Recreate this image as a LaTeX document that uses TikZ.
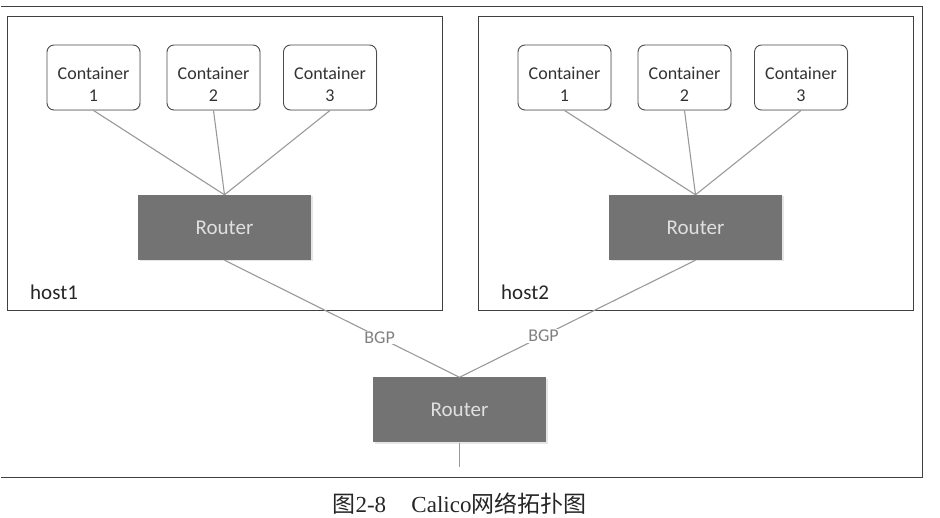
\documentclass[tikz,border=0pt]{standalone}
\usepackage{fontspec}
\setmainfont{Carlito}
\newfontfamily\capfont{Liberation Serif}
\newfontfamily\cjkfont{Noto Sans CJK SC}
\usetikzlibrary{shadows}
\begin{document}
\begin{tikzpicture}[x=1pt,y=-1pt,
  hostbox/.style={draw=black!75,line width=1pt},
  cbox/.style={draw=black!70,line width=0.9pt,rounded corners=7pt,fill=white,
    minimum width=93pt,minimum height=65pt,inner sep=0pt,
    drop shadow={shadow xshift=1pt,shadow yshift=-1pt,opacity=0.15}},
  ctext/.style={align=center,inner sep=0pt,
    font=\fontsize{18}{22}\selectfont,text=black!80},
  rbox/.style={fill=black!55,minimum width=173pt,minimum height=65pt,inner sep=0pt,
    font=\fontsize{21}{24}\selectfont,text=black!12,
    drop shadow={shadow xshift=1.5pt,shadow yshift=-1.5pt,opacity=0.2}},
  link/.style={draw=black!40,line width=1.1pt},
  lbl/.style={font=\fontsize{18}{20}\selectfont,text=black!50,fill=white,inner sep=1pt},
  hostlbl/.style={font=\fontsize{21}{24}\selectfont,text=black!85,anchor=west,inner sep=0pt}]
\useasboundingbox (0,0) rectangle (940,518);
\draw[hostbox] (1,7) -- (922,7) -- (922,477) -- (1,477);
\draw[hostbox] (7,17) rectangle (442,311);
\draw[hostbox] (478,17) rectangle (913,311);
% host1
\node[cbox] (a1) at (93.5,77.5) {};
\node[cbox] (a2) at (213.5,77.5) {};
\node[cbox] (a3) at (330,77.5) {};
\node[rbox] (ra) at (224.5,227.5) {Router};
\node[hostlbl] (ha) at (30,292) {host1};
% host2
\node[cbox] (b1) at (564.5,77.5) {};
\node[cbox] (b2) at (684.5,77.5) {};
\node[cbox] (b3) at (801,77.5) {};
\node[rbox] (rb) at (695.5,227.5) {Router};
\node[hostlbl] (hb) at (501,292) {host2};
\foreach \c/\n in {a1/1,a2/2,a3/3,b1/1,b2/2,b3/3}
  \node[ctext] (\c t) at ([yshift=-7pt]\c.center) {Container\\\n};
% bottom router
\node[rbox] (rc) at (459.5,410) {Router};
\coordinate (end) at (459.5,467);
\foreach \c in {a1,a2,a3} \draw[link] (\c.south) -- (ra.north);
\foreach \c in {b1,b2,b3} \draw[link] (\c.south) -- (rb.north);
\draw[link] (ra.south) -- node[lbl,pos=0.66] (bgpa) {BGP} (rc.north);
\draw[link] (rb.south) -- node[lbl,pos=0.644] (bgpb) {BGP} (rc.north);
\draw[link] (rc.south) -- (end);
\node[font=\fontsize{23}{26}\selectfont,text=black!85] (cap) at (459.5,504)
  {\cjkfont 图\capfont 2-8\hspace{1.1em}Calico\cjkfont 网络拓扑图};
\end{tikzpicture}
\end{document}
